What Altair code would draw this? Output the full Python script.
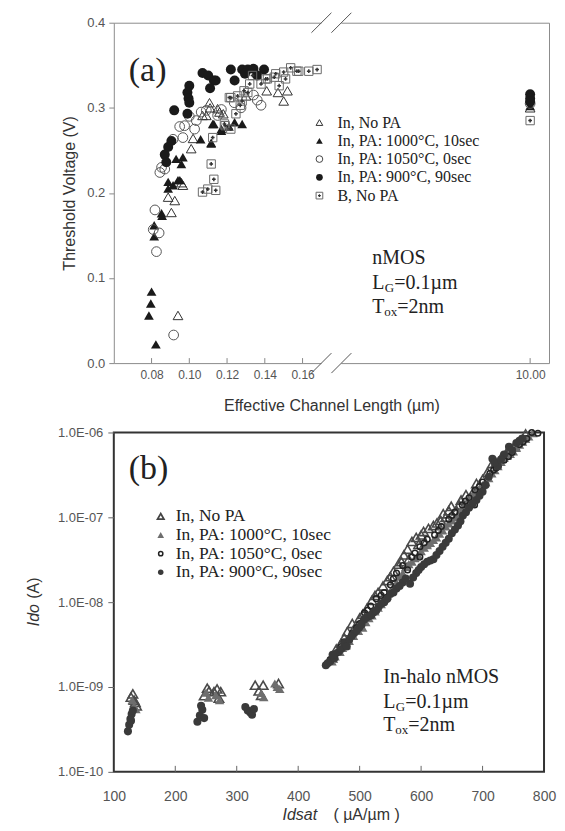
import altair as alt
import pandas as pd

SANS = "Liberation Sans"
SERIF = "Liberation Serif"

# ---------------- Panel (a): threshold voltage vs effective channel length ----------------
a_otri_x = [0.0888, 0.0923, 0.0905, 0.094, 0.0966, 0.0958, 0.101, 0.102, 0.107, 0.109, 0.111, 0.1107,
            0.115, 0.116, 0.118, 0.130, 0.141, 0.147, 0.152, 0.150, 10.0]
a_otri_y = [0.195, 0.191, 0.177, 0.056, 0.209, 0.212, 0.252, 0.264, 0.291, 0.291, 0.300, 0.306,
            0.299, 0.295, 0.293, 0.314, 0.320, 0.318, 0.320, 0.308, 0.300]

a_ftri_x = [0.080, 0.0796, 0.0786, 0.0823, 0.0814, 0.0814, 0.0856, 0.0853, 0.0888, 0.0914, 0.095, 0.0888,
            0.094, 0.0958, 0.0966, 0.093, 0.106, 0.1116, 0.1124, 0.113, 0.117, 0.117, 0.124, 0.128,
            0.1116, 0.121, 10.0]
a_ftri_y = [0.084, 0.070, 0.056, 0.022, 0.149, 0.162, 0.173, 0.176, 0.205, 0.209, 0.215, 0.213,
            0.215, 0.234, 0.242, 0.240, 0.263, 0.259, 0.281, 0.281, 0.275, 0.273, 0.283, 0.281,
            0.258, 0.278, 0.302]

a_ocir_x = [0.0818, 0.0809, 0.084, 0.0826, 0.0917, 0.0844, 0.087, 0.0853, 0.0949, 0.0975, 0.1028, 0.1037,
            0.1063, 0.0914, 0.0966, 0.117, 0.115, 0.1238, 0.1274, 0.134, 0.138, 0.136, 0.100, 0.109, 10.0]
a_ocir_y = [0.180, 0.157, 0.153, 0.131, 0.033, 0.224, 0.228, 0.230, 0.278, 0.279, 0.275, 0.285,
            0.295, 0.263, 0.265, 0.298, 0.291, 0.306, 0.300, 0.315, 0.303, 0.309, 0.290, 0.297, 0.305]

a_fcir_x = [0.107, 0.110, 0.113, 0.111, 0.100, 0.099, 0.0996, 0.100, 0.099, 0.092, 0.0905, 0.0888,
            0.087, 0.0878, 0.122, 0.124, 0.128, 0.131, 0.1396, 0.136, 0.1295, 0.134, 0.114,
            10.0, 10.0, 10.0]
a_fcir_y = [0.341, 0.338, 0.332, 0.323, 0.326, 0.318, 0.311, 0.306, 0.293, 0.297, 0.261, 0.254,
            0.245, 0.236, 0.345, 0.332, 0.345, 0.345, 0.345, 0.338, 0.340, 0.346, 0.332,
            0.316, 0.311, 0.307]

a_sq_x = [0.1537, 0.158, 0.1633, 0.1677, 0.150, 0.151, 0.145, 0.1405, 0.138, 0.1476, 0.1335, 0.132,
          0.129, 0.1256, 0.1212, 0.128, 0.1247, 0.1186, 0.122, 0.1124, 0.1116, 0.113, 0.107, 0.1098,
          0.114, 0.119, 0.122, 0.127, 0.131, 0.1414, 0.1458, 0.157, 10.0]
a_sq_y = [0.347, 0.343, 0.343, 0.345, 0.342, 0.334, 0.336, 0.334, 0.328, 0.326, 0.338, 0.328,
          0.320, 0.314, 0.312, 0.308, 0.293, 0.281, 0.275, 0.265, 0.234, 0.216, 0.201, 0.2045,
          0.203, 0.279, 0.312, 0.303, 0.318, 0.334, 0.340, 0.343, 0.285]

a_xticks = [0.08, 0.10, 0.12, 0.14, 0.16, 10.0]
a_yticks = [0.0, 0.1, 0.2, 0.3, 0.4]
a_breaks = [0.17, 9.0]
a_legend = ["In, No PA", "In, PA: 1000°C, 10sec", "In, PA: 1050°C, 0sec", "In, PA: 900°C, 90sec", "B, No PA"]

# ---------------- Panel (b): Ido vs Idsat ----------------
b_otri_x = [128, 131, 133, 137, 135, 247, 252, 255, 263, 268, 274, 271, 330, 336, 343, 340, 368,
            455, 470, 480, 492, 500, 512, 520, 530, 545, 555, 563, 572, 580, 585, 592, 600, 607, 612,
            620, 632, 640, 649, 658, 665, 673, 680, 690, 700, 716, 730, 745, 760, 770,
            462, 475, 488, 505, 525, 538, 550, 568, 578, 596, 604, 626, 636, 645, 662, 685, 695, 708,
            722, 738, 752]
b_otri_y = [7.6e-10, 8.3e-10, 7.0e-10, 6.0e-10, 6.6e-10, 7.9e-10, 9.7e-10, 9.0e-10, 8.8e-10, 9.5e-10,
            8.8e-10, 7.4e-10, 1.05e-9, 9.0e-10, 1.05e-9, 8.0e-10, 1.1e-9,
            2.2e-9, 3.3e-9, 4.5e-9, 5.0e-9, 6.5e-9, 8.5e-9, 1.05e-8, 1.3e-8, 1.8e-8, 2.3e-8, 2.8e-8,
            3.6e-8, 3.2e-8, 5.2e-8, 5.8e-8, 6.2e-8, 5.0e-8, 7.4e-8, 8.0e-8, 9.2e-8, 1.0e-7, 1.35e-7,
            1.2e-7, 1.6e-7, 1.85e-7, 1.7e-7, 2.5e-7, 2.8e-7, 4.3e-7, 5.0e-7, 6.2e-7, 8.0e-7, 9.6e-7,
            2.8e-9, 3.8e-9, 5.6e-9, 7.2e-9, 1.2e-8, 1.55e-8, 2.0e-8, 3.0e-8, 4.2e-8, 4.8e-8, 6.8e-8,
            8.6e-8, 1.1e-7, 1.2e-7, 1.4e-7, 2.0e-7, 2.4e-7, 3.4e-7, 4.4e-7, 5.6e-7, 7.0e-7]

b_ftri_x = [130, 133, 136, 250, 254, 266, 272, 340, 344, 362, 366, 370,
            460, 468, 478, 490, 498, 505, 515, 525, 535, 545, 555, 565, 575, 585, 595, 605, 615, 625,
            635, 645, 655, 665, 675, 685, 695, 705, 715, 725, 735, 745, 755, 765, 775, 782,
            455, 472, 483, 510, 520, 530, 540, 550, 560, 570, 580, 590, 600, 610, 620, 630, 640, 650,
            660, 670, 680, 690, 700, 710, 720, 730, 740, 750, 760, 770]
b_ftri_y = [7.0e-10, 6.0e-10, 5.5e-10, 8.6e-10, 7.5e-10, 8.0e-10, 7.0e-10, 8.5e-10, 7.6e-10, 1.1e-9,
            1.0e-9, 9.5e-10,
            2.3e-9, 2.6e-9, 3.1e-9, 4.0e-9, 4.6e-9, 5.0e-9, 6.5e-9, 7.8e-9, 9.5e-9, 1.2e-8, 1.5e-8,
            2.0e-8, 2.6e-8, 3.0e-8, 3.6e-8, 4.4e-8, 5.0e-8, 5.8e-8, 7.0e-8, 8.5e-8, 1.0e-7, 1.2e-7,
            1.5e-7, 1.9e-7, 2.2e-7, 2.6e-7, 3.3e-7, 4.0e-7, 5.0e-7, 5.6e-7, 6.6e-7, 7.8e-7, 9.0e-7, 9.8e-7,
            2.0e-9, 2.9e-9, 3.5e-9, 5.8e-9, 7.0e-9, 8.6e-9, 1.1e-8, 1.35e-8, 1.7e-8, 2.2e-8, 2.8e-8,
            3.3e-8, 4.0e-8, 4.7e-8, 5.4e-8, 6.4e-8, 7.8e-8, 9.2e-8, 1.1e-7, 1.35e-7, 1.7e-7, 2.0e-7,
            2.4e-7, 2.9e-7, 3.6e-7, 4.5e-7, 5.3e-7, 6.0e-7, 7.2e-7, 8.4e-7]

b_ocir_x = [452, 462, 475, 488, 500, 508, 518, 527, 540, 550, 560, 570, 578, 590, 598, 610, 622, 633,
            645, 655, 667, 678, 688, 700, 712, 722, 735, 748, 760, 772, 780, 790, 598, 687,
            470, 495, 513, 535, 555, 585, 605, 628, 650, 672, 695, 718, 742, 766]
b_ocir_y = [2.1e-9, 2.5e-9, 3.4e-9, 4.3e-9, 5.6e-9, 7.5e-9, 9.0e-9, 1.1e-8, 1.3e-8, 1.6e-8, 2.2e-8,
            2.7e-8, 2.4e-8, 3.8e-8, 4.5e-8, 5.5e-8, 6.2e-8, 7.8e-8, 9.5e-8, 1.15e-7, 1.4e-7, 1.7e-7,
            2.1e-7, 2.6e-7, 3.3e-7, 3.8e-7, 4.7e-7, 5.8e-7, 7.2e-7, 8.5e-7, 1.0e-6, 9.8e-7, 3.4e-8, 1.4e-7,
            3.0e-9, 5.0e-9, 8.0e-9, 1.2e-8, 1.9e-8, 3.4e-8, 5.0e-8, 7.0e-8, 1.05e-7, 1.55e-7, 2.3e-7,
            3.6e-7, 5.2e-7, 7.8e-7]

b_fcir_x = [123, 125, 127, 129, 131, 128, 236, 240, 244, 247, 242, 314, 318, 322, 325, 328,
            445, 452, 459, 466, 475, 483, 491, 499, 507, 515, 523, 531, 540, 550, 560, 570, 582, 592,
            600, 610, 620, 630, 640, 650, 660, 668, 678, 690, 700, 710, 716, 725, 735, 743, 755, 765,
            448, 456, 470, 479, 487, 495, 503, 511, 519, 527, 535, 545, 555, 565, 575, 587, 596, 605,
            615, 625, 635, 645, 655, 664, 673, 684, 695, 705, 720, 730, 748, 760]
b_fcir_y = [3.0e-10, 3.6e-10, 4.2e-10, 4.8e-10, 5.3e-10, 4.0e-10, 3.9e-10, 4.6e-10, 5.4e-10, 4.3e-10,
            6.0e-10, 5.8e-10, 5.3e-10, 5.0e-10, 4.7e-10, 5.5e-10,
            1.8e-9, 2.0e-9, 2.2e-9, 2.6e-9, 3.3e-9, 3.6e-9, 4.3e-9, 5.0e-9, 6.2e-9, 6.8e-9, 7.6e-9,
            8.8e-9, 1.0e-8, 1.25e-8, 1.45e-8, 1.7e-8, 1.65e-8, 2.2e-8, 2.6e-8, 3.0e-8, 3.2e-8, 4.0e-8,
            5.0e-8, 6.5e-8, 8.0e-8, 1.05e-7, 1.3e-7, 1.6e-7, 2.0e-7, 3.0e-7, 4.9e-7, 4.0e-7, 5.5e-7,
            6.8e-7, 7.5e-7, 8.5e-7,
            1.9e-9, 2.4e-9, 2.8e-9, 3.0e-9, 4.0e-9, 4.6e-9, 5.4e-9, 6.6e-9, 7.0e-9, 8.0e-9, 9.6e-9,
            1.1e-8, 1.3e-8, 1.55e-8, 1.9e-8, 1.95e-8, 2.4e-8, 2.8e-8, 3.1e-8, 3.6e-8, 4.5e-8, 5.6e-8,
            7.2e-8, 9.0e-8, 1.15e-7, 1.45e-7, 1.8e-7, 2.4e-7, 4.4e-7, 4.8e-7, 6.2e-7, 8.0e-7]

b_xticks = [100, 200, 300, 400, 500, 600, 700, 800]
b_inner_ticks = [200, 300, 400, 500, 600, 700]
b_yticks = [1e-10, 1e-9, 1e-8, 1e-7, 1e-6]
b_legend = ["In, No PA", "In, PA: 1000°C, 10sec", "In, PA: 1050°C, 0sec", "In, PA: 900°C, 90sec"]

# ---------------- layout constants ----------------
WA, HA = 436, 341
WB, HB = 431, 340

xa_scale = alt.Scale(domain=[0.06, a_breaks[0], a_breaks[1], 10.1], range=[0, 208, 228, WA], nice=False, zero=False)
ya_scale = alt.Scale(domain=[0, 0.4], nice=False, zero=False)
xa_axis = alt.Axis(values=a_xticks, format=".2f", ticks=False, tickSize=0, domain=False, grid=False,
                   labelFont=SANS, labelFontSize=12, labelColor="#555", labelPadding=6, labelFlush=False,
                   title="Effective Channel Length (µm)", titleFont=SANS, titleFontSize=16,
                   titleFontWeight="normal", titleColor="#333", titlePadding=17)
ya_axis = alt.Axis(values=a_yticks, format=".1f", tickSize=5, tickColor="#888", domain=False, grid=False,
                   labelFont=SANS, labelFontSize=13, labelColor="#555", labelPadding=4,
                   title="Threshold Voltage (V)", titleFont=SANS, titleFontSize=16,
                   titleFontWeight="normal", titleColor="#333", titlePadding=9)


def a_pts(xs, ys, **mk):
    return alt.Chart(pd.DataFrame({"x": xs, "y": ys})).mark_point(opacity=1, **mk).encode(
        x=alt.X("x:Q", scale=xa_scale, axis=xa_axis),
        y=alt.Y("y:Q", scale=ya_scale, axis=ya_axis),
    )


def txt(s, x, y, size, font=SERIF, style="normal", align="left", color="#222", angle=0):
    return alt.Chart(pd.DataFrame({"t": [s]})).mark_text(
        font=font, fontSize=size, fontStyle=style, align=align, baseline="middle", color=color, angle=angle
    ).encode(text="t:N", x=alt.value(x), y=alt.value(y))


def sym(x, y, **mk):
    return alt.Chart(pd.DataFrame({"t": [0]})).mark_point(opacity=1, **mk).encode(
        x=alt.value(x), y=alt.value(y))


a_layers = [
    a_pts(a_otri_x, a_otri_y, shape="triangle-up", filled=False, size=95, color="#333", strokeWidth=1),
    a_pts(a_ftri_x, a_ftri_y, shape="triangle-up", filled=True, size=95, color="#1a1a1a"),
    a_pts(a_ocir_x, a_ocir_y, shape="circle", filled=False, size=95, color="#555", strokeWidth=1),
    a_pts(a_fcir_x, a_fcir_y, shape="circle", filled=True, size=100, color="#1a1a1a"),
    a_pts(a_sq_x, a_sq_y, shape="square", filled=False, size=70, color="#6a6a6a", strokeWidth=1),
    a_pts(a_sq_x, a_sq_y, shape="cross", filled=True, size=14, color="#333"),
]

# inward x ticks
a_ticks = alt.Chart(pd.DataFrame({"x": a_xticks})).mark_rule(color="#888", y2Offset=-5).encode(
    x=alt.X("x:Q", scale=xa_scale, axis=xa_axis), y=alt.datum(0, scale=ya_scale), y2=alt.datum(0))

# axis-break decorations
a_gap_layers = []
for yv in [0.4, 0.0]:
    a_gap_layers.append(
        alt.Chart(pd.DataFrame({"t": [0]})).mark_rect(color="white", yOffset=-2, y2Offset=2).encode(
            x=alt.datum(a_breaks[0]), x2=alt.datum(a_breaks[1]), y=alt.datum(yv), y2=alt.datum(yv)))
    for bx in a_breaks:
        a_gap_layers.append(
            alt.Chart(pd.DataFrame({"t": [0]})).mark_rule(
                color="#555", strokeWidth=1, xOffset=-10, x2Offset=10, yOffset=10, y2Offset=-10).encode(
                x=alt.datum(bx), x2=alt.datum(bx), y=alt.datum(yv), y2=alt.datum(yv)))

a_leg_layers = []
a_leg_syms = [
    dict(shape="triangle-up", filled=False, size=45, color="#333", strokeWidth=1),
    dict(shape="triangle-up", filled=True, size=45, color="#1a1a1a"),
    dict(shape="circle", filled=False, size=45, color="#444", strokeWidth=1),
    dict(shape="circle", filled=True, size=45, color="#1a1a1a"),
    dict(shape="square", filled=False, size=45, color="#6a6a6a", strokeWidth=1),
]
for i, (lab, mk) in enumerate(zip(a_legend, a_leg_syms)):
    yy = 100 + i * 18.3
    a_leg_layers.append(sym(206, yy, **mk))
    a_leg_layers.append(txt(lab, 224, yy, 16))
a_leg_layers.append(sym(206, 100 + 4 * 18.3, shape="cross", filled=True, size=8, color="#333"))

a_notes = [
    txt("(a)", 15, 48, 34),
    txt("nMOS", 259, 236, 20),
    txt("L", 259, 261, 20), txt("G", 271.5, 266, 13), txt("=0.1µm", 281, 261, 20),
    txt("T", 259, 285, 20), txt("ox", 271, 290, 13), txt("=2nm", 284, 285, 20),
]

panel_a = alt.layer(*a_layers, a_ticks, *a_gap_layers, *a_leg_layers, *a_notes).properties(
    width=WA, height=HA, view=alt.ViewBackground(stroke="#8c8c8c", strokeWidth=1))

# ---------------- panel (b) ----------------
xb_scale = alt.Scale(domain=[100, 800], nice=False, zero=False)
yb_scale = alt.Scale(type="log", domain=[1e-10, 1e-6], nice=False)
xb_axis = alt.Axis(values=b_xticks, format="d", ticks=False, tickSize=0, domain=False, grid=False,
                   labelFont=SANS, labelFontSize=14, labelColor="#555", labelPadding=18, labelFlush=False,
                   title=None)
yb_axis = alt.Axis(values=b_yticks, tickSize=6, tickColor="#666", domain=False, grid=False,
                   labelFont=SANS, labelFontSize=13, labelColor="#555", labelPadding=5,
                   labelExpr="datum.value >= 1e-9 ? '1.0E-0' + round(-log(datum.value)/LN10) : '1.0E-' + round(-log(datum.value)/LN10)",
                   title=None)


def b_pts(xs, ys, **mk):
    return alt.Chart(pd.DataFrame({"x": xs, "y": ys})).mark_point(opacity=1, **mk).encode(
        x=alt.X("x:Q", scale=xb_scale, axis=xb_axis),
        y=alt.Y("y:Q", scale=yb_scale, axis=yb_axis),
    )


b_layers = [
    b_pts(b_otri_x, b_otri_y, shape="triangle-up", filled=False, size=90, color="#4a4a4a", strokeWidth=1.6),
    b_pts(b_ftri_x, b_ftri_y, shape="triangle-up", filled=True, size=90, color="#6e6e6e"),
    b_pts(b_ocir_x, b_ocir_y, shape="circle", filled=False, size=32, color="#222", strokeWidth=1.5),
    b_pts(b_fcir_x, b_fcir_y, shape="circle", filled=True, size=65, color="#3a3a3a"),
]

b_ticks = alt.Chart(pd.DataFrame({"x": b_inner_ticks})).mark_rule(color="#666", y2Offset=-6).encode(
    x=alt.X("x:Q", scale=xb_scale, axis=xb_axis), y=alt.datum(1e-10, scale=yb_scale), y2=alt.datum(1e-10))

b_leg_layers = []
b_leg_syms = [
    dict(shape="triangle-up", filled=False, size=40, color="#444", strokeWidth=1.8),
    dict(shape="triangle-up", filled=True, size=45, color="#6e6e6e"),
    dict(shape="circle", filled=False, size=18, color="#222", strokeWidth=1.5),
    dict(shape="circle", filled=True, size=30, color="#3a3a3a"),
]
for i, (lab, mk) in enumerate(zip(b_legend, b_leg_syms)):
    yy = 84 + i * 18.7
    b_leg_layers.append(sym(47, yy, **mk))
    b_leg_layers.append(txt(lab, 62, yy, 17.5))

b_notes = [
    txt("(b)", 15, 37, 34),
    txt("In-halo nMOS", 270, 245, 20),
    txt("L", 270, 270, 20), txt("G", 282.5, 275, 13), txt("=0.1µm", 292, 270, 20),
    txt("T", 270, 293, 20), txt("ox", 282, 298, 13), txt("=2nm", 295, 293, 20),
    # axis titles
    txt("Idsat", 169, 383, 16, font=SANS, style="italic", color="#333"),
    txt("( µA/µm )", 220, 383, 16, font=SANS, color="#333"),
    txt("Ido", -80, 183, 16, font=SANS, style="italic", align="center", color="#333", angle=270),
    txt("(A)", -80, 156, 16, font=SANS, align="center", color="#333", angle=270),
]

panel_b = alt.layer(*b_layers, b_ticks, *b_leg_layers, *b_notes).properties(
    width=WB, height=HB, view=alt.ViewBackground(stroke="#333", strokeWidth=2))

chart = alt.vconcat(panel_a, panel_b, spacing=11.5).properties(
    padding={"left": 17, "top": 3, "right": 0, "bottom": 0}
).configure_view(fill="white")

chart.save("out.html", embed_options={"renderer": "svg", "actions": False})
